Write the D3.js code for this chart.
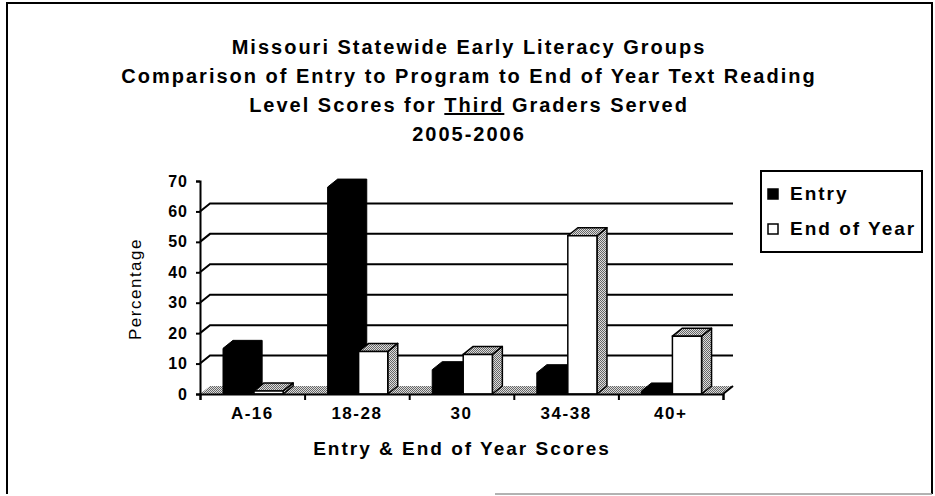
<!DOCTYPE html>
<html>
<head>
<meta charset="utf-8">
<script src="https://cdn.jsdelivr.net/npm/d3@7/dist/d3.min.js"></script>
<style>
  html, body { margin: 0; padding: 0; background: #fff; }
  svg { display: block; font-family: "Liberation Sans", Arial, sans-serif; }
</style>
</head>
<body>
<svg id="chart" width="935" height="496"></svg>
<script>
// ---- data ----
const categories = ["A-16", "18-28", "30", "34-38", "40+"];
const seriesNames = ["Entry", "End of Year"];
const entryValues = [15, 68, 8, 7, 1];
const endOfYearValues = [1, 14, 13, 52, 19];
const yTickValues = [0, 10, 20, 30, 40, 50, 60, 70];
const gridValues = [10, 20, 30, 40, 50, 60];
const titleLines = [
  "Missouri Statewide Early Literacy Groups",
  "Comparison of Entry to Program to End of Year Text Reading",
  "Level Scores for |Third| Graders Served",
  "2005-2006"
];
const xAxisTitle = "Entry & End of Year Scores";
const yAxisTitle = "Percentage";

// ---- layout ----
const svg = d3.select("#chart");
const plot = { left: 200, right: 723, bottom: 394, top: 181 };
const depth = { dx: 10, dy: -8 };

const x = d3.scaleBand().domain(categories).range([plot.left, plot.right]).padding(0);
const xs = d3.scaleBand().domain(seriesNames)
  .range([x.bandwidth() * 0.22, x.bandwidth() * 0.795]).paddingInner(0.06);
const y = d3.scaleLinear().domain([0, 70]).range([plot.bottom, plot.top]);

// patterns
const defs = svg.append("defs");
const pat = defs.append("pattern").attr("id", "hatch")
  .attr("width", 2).attr("height", 2).attr("patternUnits", "userSpaceOnUse");
pat.append("rect").attr("width", 2).attr("height", 2).attr("fill", "#dcdcdc");
[[0, 0], [1, 1]].forEach(([a, b]) =>
  pat.append("rect").attr("x", a).attr("y", b).attr("width", 1).attr("height", 1).attr("fill", "#666"));

// outer frame
svg.append("path").attr("d", "M7,494 V3 H932 V494").attr("fill", "none")
  .attr("stroke", "#000").attr("stroke-width", 2);
svg.append("line").attr("x1", 495).attr("x2", 932).attr("y1", 494).attr("y2", 494)
  .attr("stroke", "#999").attr("stroke-width", 1.5);

// title
const title = svg.append("g").attr("font-weight", "bold").attr("font-size", 20)
  .attr("letter-spacing", 2).attr("text-anchor", "middle");
titleLines.forEach((line, i) => {
  const t = title.append("text").attr("x", 469).attr("y", 54 + i * 29);
  line.split("|").forEach((part, j) => {
    const ts = t.append("tspan").text(part);
    if (j === 1) ts.attr("text-decoration", "underline");
  });
});

// floor
const floor = svg.append("g");
floor.append("path")
  .attr("d", `M${plot.left},${y(0)} L${plot.right},${y(0)} L${plot.right + depth.dx},${y(0) + depth.dy} L${plot.left + depth.dx},${y(0) + depth.dy} Z`)
  .attr("fill", "url(#hatch)");
floor.append("path")
  .attr("d", `M${plot.right},${y(0)} L${plot.right + depth.dx},${y(0) + depth.dy}`)
  .attr("stroke", "#000").attr("stroke-width", 2);

// gridlines on back wall with diagonal connectors
svg.append("g").selectAll("path").data(gridValues).join("path")
  .attr("d", v => `M${plot.left},${y(v)} L${plot.left + depth.dx},${y(v) + depth.dy} L${plot.right + depth.dx},${y(v) + depth.dy}`)
  .attr("fill", "none").attr("stroke", "#000").attr("stroke-width", 2);

// bars
const bars = svg.append("g");
categories.forEach((c, i) => {
  const vals = [entryValues[i], endOfYearValues[i]];
  seriesNames.forEach((s, k) => {
    const x0 = x(c) + xs(s), w = xs.bandwidth();
    const yt = y(vals[k]), yb = y(0);
    const dx = depth.dx, dy = depth.dy;
    const front = `M${x0},${yb} V${yt} H${x0 + w} V${yb} Z`;
    const top = `M${x0},${yt} L${x0 + dx},${yt + dy} H${x0 + w + dx} L${x0 + w},${yt} Z`;
    const side = `M${x0 + w},${yt} L${x0 + w + dx},${yt + dy} V${yb + dy} L${x0 + w},${yb} Z`;
    if (k === 0) {
      bars.append("path")
        .attr("d", `M${x0},${yb} V${yt} L${x0 + dx},${yt + dy} H${x0 + w + dx} V${yb + dy} L${x0 + w},${yb} Z`)
        .attr("fill", "#000").attr("stroke", "#000").attr("stroke-width", 1);
    } else {
      bars.append("path").attr("d", side).attr("fill", "url(#hatch)").attr("stroke", "#000").attr("stroke-width", 1.5).attr("stroke-linejoin", "round");
      bars.append("path").attr("d", top).attr("fill", "url(#hatch)").attr("stroke", "#000").attr("stroke-width", 1.5).attr("stroke-linejoin", "round");
      bars.append("path").attr("d", front).attr("fill", "#fff").attr("stroke", "#000").attr("stroke-width", 1.5);
    }
  });
});

// y axis
const yAxis = svg.append("g").attr("transform", `translate(${plot.left},0)`)
  .call(d3.axisLeft(y).tickValues(yTickValues).tickSize(4).tickPadding(8));
yAxis.select(".domain").attr("stroke-width", 2);
yAxis.selectAll(".tick line").attr("stroke-width", 2);
yAxis.selectAll("text").attr("font-size", 16).attr("font-weight", "bold").attr("letter-spacing", 1)
  .attr("font-family", "Liberation Sans, Arial, sans-serif").attr("fill", "#000");

// x axis boundary ticks
const xi = d3.scaleLinear().domain([0, categories.length]).range([plot.left, plot.right]);
const xAxisLine = svg.append("g").attr("transform", `translate(0,${y(0)})`)
  .call(d3.axisBottom(xi).tickValues(d3.range(categories.length + 1)).tickFormat("").tickSize(6));
xAxisLine.select(".domain").attr("stroke-width", 2);
xAxisLine.selectAll(".tick line").attr("stroke-width", 2);

// x category labels
const xAxis = svg.append("g").attr("transform", `translate(0,${y(0)})`)
  .call(d3.axisBottom(x).tickSize(0).tickPadding(13));
xAxis.select(".domain").remove();
xAxis.selectAll("text").attr("font-size", 17).attr("font-weight", "bold").attr("letter-spacing", 1.5)
  .attr("font-family", "Liberation Sans, Arial, sans-serif").attr("fill", "#000");

// axis titles
svg.append("text").attr("x", 462).attr("y", 455).attr("text-anchor", "middle")
  .attr("font-size", 19).attr("font-weight", "bold").attr("letter-spacing", 2).text(xAxisTitle);
svg.append("text").attr("transform", "translate(141,289) rotate(-90)").attr("text-anchor", "middle")
  .attr("font-size", 17).attr("letter-spacing", 1.5).text(yAxisTitle);

// legend
const legend = svg.append("g");
legend.append("rect").attr("x", 761).attr("y", 171).attr("width", 161).attr("height", 81)
  .attr("fill", "#fff").attr("stroke", "#000").attr("stroke-width", 2);
const clip = defs.append("clipPath").attr("id", "legclip");
clip.append("rect").attr("x", 761).attr("y", 171).attr("width", 161).attr("height", 81);
const legItems = legend.append("g").attr("clip-path", "url(#legclip)");
seriesNames.forEach((s, i) => {
  const yy = 194 + i * 35;
  legItems.append("rect").attr("x", 768).attr("y", yy - 5).attr("width", 10).attr("height", 10)
    .attr("fill", i === 0 ? "#000" : "#fff").attr("stroke", "#000").attr("stroke-width", 1.5);
  legItems.append("text").attr("x", 790).attr("y", yy + 6).attr("font-size", 19)
    .attr("font-weight", "bold").attr("letter-spacing", 2).text(s);
});
// redraw legend border over clipped text
legend.append("rect").attr("x", 761).attr("y", 171).attr("width", 161).attr("height", 81)
  .attr("fill", "none").attr("stroke", "#000").attr("stroke-width", 2);
</script>
</body>
</html>
